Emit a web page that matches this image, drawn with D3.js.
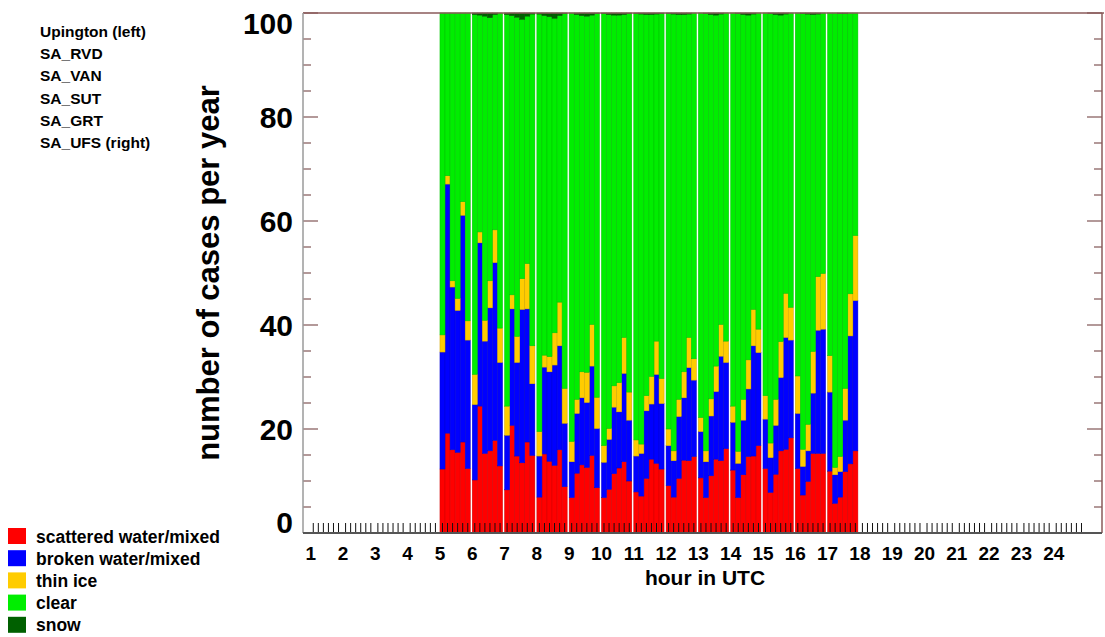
<!DOCTYPE html>
<html>
<head>
<meta charset="utf-8">
<script src="https://cdn.jsdelivr.net/npm/d3@7"></script>
<style>
  html, body { margin: 0; padding: 0; background: #fff; }
  svg { display: block; font-family: "Liberation Sans", Arial, Helvetica, sans-serif; font-weight: bold; }
</style>
</head>
<body>
<svg id="chart" width="1105" height="637"></svg>
<script>
// Hours (UTC) that carry observations, and the six stations drawn in each hour, left to right
const hours = [5, 6, 7, 8, 9, 10, 11, 12, 13, 14, 15, 16, 17];
const stations = ["Upington (left)", "SA_RVD", "SA_VAN", "SA_SUT", "SA_GRT", "SA_UFS (right)"];

// Axis tick labels
const hourLabels = d3.range(1, 25);
const yMajorTicks = [0, 20, 40, 60, 80, 100];
const yMinorTicks = d3.range(0, 101, 5);

// Cases per year, one row per hour, one value per station
const scattered = [
  [12.3, 19.2, 16.0, 15.5, 17.5, 12.4],
  [10.2, 24.4, 15.3, 15.8, 17.8, 12.9],
  [ 8.3, 20.7, 14.8, 13.5, 17.5, 14.9],
  [ 6.9, 15.2, 13.8, 13.0, 16.0,  8.9],
  [ 6.8, 11.5, 13.1, 12.6, 14.9,  8.7],
  [ 6.8,  8.4, 11.4, 12.5, 13.7, 10.0],
  [ 7.9,  7.1, 10.5, 14.2, 13.4, 12.3],
  [ 9.1,  6.9, 10.5, 14.0, 13.9, 14.7],
  [10.6,  6.8, 11.0, 14.2, 13.9, 16.2],
  [12.1,  6.8, 11.2, 14.7, 14.8, 16.8],
  [12.4,  7.8, 11.3, 15.8, 16.1, 18.3],
  [12.4,  7.3,  9.9, 15.3, 15.3, 15.3],
  [11.9,  5.7,  6.9, 11.8, 13.3, 15.8]
];
const broken = [
  [22.5, 47.9, 31.3, 27.3, 43.6, 24.7],
  [14.5, 31.4, 21.6, 27.5, 34.2, 19.9],
  [10.5, 22.4, 18.0, 29.5, 25.6, 13.8],
  [ 7.9, 16.7, 17.2, 19.3, 20.0, 12.2],
  [ 6.9, 11.5, 12.9, 12.5, 17.2, 11.4],
  [ 6.8,  9.6, 12.8, 10.8, 17.0, 11.7],
  [ 6.9,  8.2, 13.0, 10.6, 17.1, 12.6],
  [ 7.7,  7.0, 11.9, 12.0, 17.9, 14.7],
  [ 8.9,  6.9, 11.5, 13.0, 20.1, 16.6],
  [ 9.2,  6.6, 10.5, 13.0, 21.2, 17.9],
  [ 9.5,  6.7,  9.4, 14.1, 21.5, 18.8],
  [10.6,  5.5,  5.9, 11.6, 23.7, 23.9],
  [15.2,  5.5,  4.9,  9.9, 24.6, 28.9]
];
const thinIce = [
  [3.3, 1.6, 1.2, 2.3,  2.6,  3.7],
  [5.8, 2.1, 4.0, 5.2,  6.3,  6.6],
  [5.6, 2.7, 5.0, 5.9,  8.7,  7.3],
  [4.7, 2.3, 2.9, 6.2,  8.4,  6.7],
  [3.9, 2.7, 5.0, 5.8,  8.0,  6.0],
  [3.2, 2.1, 4.1, 5.6,  6.9,  5.4],
  [3.1, 1.8, 2.9, 5.3,  6.4,  4.8],
  [3.2, 1.9, 3.3, 5.0,  5.8,  4.1],
  [2.7, 2.1, 3.3, 4.9,  6.1,  4.1],
  [3.1, 2.3, 4.0, 5.6,  7.0,  4.5],
  [4.5, 2.8, 5.0, 6.9,  8.5,  6.3],
  [7.2, 3.3, 5.1, 8.0, 10.3, 10.7],
  [7.0, 1.4, 2.9, 6.1,  8.1, 12.5]
];
const clear = [
  [61.9, 31.3, 51.5, 54.9, 36.3, 59.2],
  [69.2, 41.7, 58.5, 50.6, 41.4, 60.6],
  [75.3, 53.7, 61.4, 49.9, 47.6, 63.8],
  [80.3, 65.3, 65.4, 60.5, 55.1, 72.1],
  [82.4, 74.0, 68.5, 68.5, 59.5, 73.8],
  [83.1, 79.6, 71.3, 70.7, 62.1, 72.8],
  [82.0, 82.7, 73.3, 69.6, 62.9, 70.2],
  [79.9, 84.0, 74.0, 68.7, 62.2, 66.5],
  [77.8, 84.1, 73.9, 67.5, 59.7, 63.1],
  [75.6, 84.2, 74.0, 66.3, 56.8, 60.8],
  [73.6, 82.6, 74.0, 62.8, 53.7, 56.6],
  [69.8, 83.8, 78.9, 64.8, 50.5, 50.1],
  [65.9, 87.4, 85.2, 72.1, 54.0, 42.8]
];
const snow = [
  [0.0, 0.0, 0.0, 0.0, 0.0, 0.0],
  [0.3, 0.4, 0.6, 0.9, 0.3, 0.0],
  [0.3, 0.5, 0.8, 1.2, 0.6, 0.2],
  [0.2, 0.5, 0.7, 1.0, 0.5, 0.1],
  [0.0, 0.3, 0.5, 0.6, 0.4, 0.1],
  [0.1, 0.3, 0.4, 0.4, 0.3, 0.1],
  [0.1, 0.2, 0.3, 0.3, 0.2, 0.1],
  [0.1, 0.2, 0.3, 0.3, 0.2, 0.0],
  [0.0, 0.1, 0.3, 0.4, 0.2, 0.0],
  [0.0, 0.1, 0.3, 0.4, 0.2, 0.0],
  [0.0, 0.1, 0.3, 0.4, 0.2, 0.0],
  [0.0, 0.1, 0.2, 0.3, 0.2, 0.0],
  [0.0, 0.0, 0.1, 0.1, 0.0, 0.0]
];

// Cloud classes, stacked from the bottom up
const classes = [
  { key: "scattered", label: "scattered water/mixed", color: "#ff0000", values: scattered },
  { key: "broken",    label: "broken water/mixed",    color: "#0000ff", values: broken },
  { key: "thinIce",   label: "thin ice",              color: "#ffcc00", values: thinIce },
  { key: "clear",     label: "clear",                 color: "#00ee00", values: clear },
  { key: "snow",      label: "snow",                  color: "#006000", values: snow }
];

// One record per (hour, station)
const rows = [];
hours.forEach((h, hi) => {
  stations.forEach((s, si) => {
    const r = { hour: h, station: si };
    classes.forEach(c => { r[c.key] = c.values[hi][si]; });
    rows.push(r);
  });
});

const svg = d3.select("#chart");
const plot = { left: 303, right: 1102, top: 13, bottom: 533 };

const x = d3.scaleLinear().domain([0.76, 25.495]).range([plot.left, plot.right]);
const y = d3.scaleLinear().domain([0, 100]).range([plot.bottom, plot.top]);

// Six bars per hour, leaving a small white gap before the next hour
const hourWidth = x(2) - x(1);
const inner = d3.scaleBand().domain(d3.range(stations.length)).range([0, hourWidth - 2]).padding(0);

const stack = d3.stack().keys(classes.map(c => c.key));
const series = stack(rows);

const gBars = svg.append("g");
series.forEach((layer, li) => {
  const col = classes[li].color;
  gBars.append("g")
    .selectAll("rect")
    .data(layer)
    .join("rect")
    .attr("x", d => x(d.data.hour) + inner(d.data.station))
    .attr("width", inner.bandwidth())
    .attr("y", d => y(d[1]))
    .attr("height", d => Math.max(0, y(d[0]) - y(d[1])))
    .attr("fill", col)
    .attr("stroke", d3.color(col).darker(0.6))
    .attr("stroke-width", 0.5);
});

// Bottom ticks: one per station slot in every hour
const slotTicks = [];
hourLabels.forEach(h => {
  d3.range(stations.length).forEach(i => slotTicks.push(x(h) + inner(i) + inner.bandwidth() / 2));
});
svg.append("g")
  .selectAll("line")
  .data(slotTicks)
  .join("line")
  .attr("x1", d => d).attr("x2", d => d)
  .attr("y1", plot.bottom - 10).attr("y2", plot.bottom)
  .attr("stroke", "#111")
  .attr("stroke-width", 1);

// Y ticks on both sides, pointing into the plot
const tickColor = "#8a6262";
const gY = svg.append("g");
yMinorTicks.forEach(v => {
  const len = yMajorTicks.includes(v) ? 15 : 8;
  gY.append("line")
    .attr("x1", plot.left).attr("x2", plot.left + len)
    .attr("y1", y(v)).attr("y2", y(v))
    .attr("stroke", tickColor).attr("stroke-width", 1.3);
  gY.append("line")
    .attr("x1", plot.right - len).attr("x2", plot.right)
    .attr("y1", y(v)).attr("y2", y(v))
    .attr("stroke", tickColor).attr("stroke-width", 1.3);
});

// Frame
svg.append("line").attr("x1", plot.left).attr("x2", plot.right + 2).attr("y1", plot.top).attr("y2", plot.top)
  .attr("stroke", "#8a5a5a").attr("stroke-width", 1.5);
svg.append("line").attr("x1", plot.right).attr("x2", plot.right).attr("y1", plot.top).attr("y2", plot.bottom)
  .attr("stroke", "#8a5a5a").attr("stroke-width", 1.5);
svg.append("line").attr("x1", plot.left).attr("x2", plot.left).attr("y1", plot.top).attr("y2", plot.bottom)
  .attr("stroke", "#9a9a9a").attr("stroke-width", 1.5);
svg.append("line").attr("x1", plot.left).attr("x2", plot.right).attr("y1", plot.bottom).attr("y2", plot.bottom)
  .attr("stroke", "#555").attr("stroke-width", 2);

// Y tick labels, kept inside the plot's vertical extent
const yFont = 30, cap = yFont * 0.716;
svg.append("g")
  .selectAll("text")
  .data(yMajorTicks)
  .join("text")
  .attr("x", 293)
  .attr("y", d => Math.min(plot.bottom, Math.max(plot.top + cap, y(d) + cap / 2)))
  .attr("text-anchor", "end")
  .attr("font-size", yFont)
  .attr("fill", "#000")
  .text(d => d);

// Hour labels
svg.append("g")
  .selectAll("text")
  .data(hourLabels)
  .join("text")
  .attr("x", d => x(d))
  .attr("y", 560)
  .attr("text-anchor", "middle")
  .attr("font-size", 19)
  .attr("fill", "#000")
  .text(d => d);

// Axis titles
svg.append("text")
  .attr("x", 705).attr("y", 585)
  .attr("text-anchor", "middle")
  .attr("font-size", 21)
  .text("hour in UTC");

svg.append("text")
  .attr("transform", "translate(219,273) rotate(-90)")
  .attr("text-anchor", "middle")
  .attr("font-size", 31)
  .text("number of cases per year");

// Station order note
svg.append("g")
  .selectAll("text")
  .data(stations)
  .join("text")
  .attr("x", 40)
  .attr("y", (d, i) => 37 + i * 22.2)
  .attr("font-size", 15.5)
  .text(d => d);

// Legend
const lg = svg.append("g");
classes.forEach((c, i) => {
  const cy = 536 + i * 22.2;
  lg.append("rect").attr("x", 8).attr("y", cy - 8).attr("width", 18).attr("height", 16).attr("fill", c.color);
  lg.append("text").attr("x", 36).attr("y", cy + 6.5).attr("font-size", 17.5).text(c.label);
});
</script>
</body>
</html>
